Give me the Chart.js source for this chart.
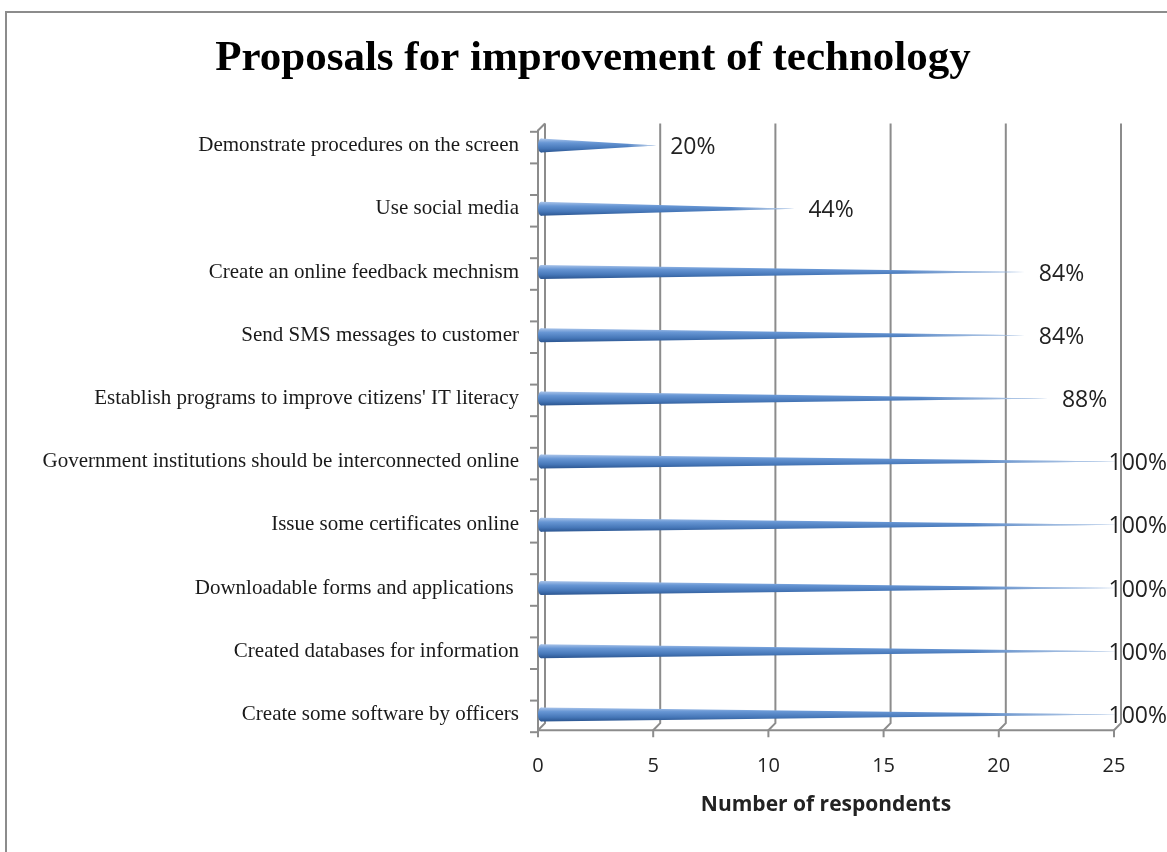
<!DOCTYPE html>
<html>
<head>
<meta charset="utf-8">
<title>Proposals for improvement of technology</title>
<script src="https://cdn.jsdelivr.net/npm/chart.js@4/dist/chart.umd.min.js"></script>
<style>
  html, body { margin: 0; padding: 0; background: #fff; overflow: hidden; }
  #frame {
    position: absolute; left: 5px; top: 11px; width: 1300px; height: 1000px;
    border-top: 2px solid #8c8c8c; border-left: 2px solid #8c8c8c;
  }
  #wrap { position: absolute; left: 0; top: 0; width: 1167px; height: 852px; }
</style>
</head>
<body>
<div id="frame"></div>
<div id="wrap"><canvas id="chart" width="1167" height="852"></canvas></div>
<script>
const chartTitle = "Proposals for improvement of technology";
const proposals = [
  "Demonstrate procedures on the screen",
  "Use social media",
  "Create an online feedback mechnism",
  "Send SMS messages to customer",
  "Establish programs to improve citizens' IT literacy",
  "Government institutions should be interconnected online",
  "Issue some certificates online",
  "Downloadable forms and applications ",
  "Created databases for information",
  "Create some software by officers",
];
const respondents = [5, 11, 21, 21, 22, 25, 25, 25, 25, 25];
const shareLabels = ["20%", "44%", "84%", "84%", "88%", "100%", "100%", "100%", "100%", "100%"];
const xTicks = [0, 5, 10, 15, 20, 25];

const lineGray = "#8c8c8c";

// title is centred on the whole frame, not on the chart area
const titlePlugin = {
  id: "frameTitle",
  afterDraw(chart) {
    const { ctx } = chart;
    ctx.save();
    ctx.font = "bold 43px 'Liberation Serif', 'Times New Roman', serif";
    ctx.fillStyle = "#000";
    ctx.textAlign = "center";
    ctx.textBaseline = "middle";
    ctx.fillText(chartTitle, 593, 59);
    ctx.restore();
  },
};

// back wall, floor and left edge in the old 3D office look
const wallPlugin = {
  id: "wall3d",
  beforeDatasetsDraw(chart) {
    const { ctx } = chart;
    const xs = chart.scales.x;
    const ys = chart.scales.y;
    const n = proposals.length;
    const band = ys.getPixelForValue(1) - ys.getPixelForValue(0);
    const top = ys.getPixelForValue(0) - band * 0.35;
    const floor = ys.getPixelForValue(n - 1) + band * 0.25;
    const depth = 7;
    const x0 = xs.getPixelForValue(0);
    ctx.save();
    ctx.strokeStyle = lineGray;
    ctx.lineWidth = 2;
    for (const v of xTicks) {
      const xf = xs.getPixelForValue(v);
      ctx.beginPath();
      ctx.moveTo(xf + depth, top);
      ctx.lineTo(xf + depth, floor - depth);
      ctx.lineTo(xf, floor);
      ctx.lineTo(xf, floor + 7);
      ctx.stroke();
    }
    ctx.beginPath();
    ctx.moveTo(x0, floor);
    ctx.lineTo(xs.getPixelForValue(25), floor);
    ctx.stroke();
    // left front edge
    ctx.beginPath();
    ctx.moveTo(x0 + depth, top);
    ctx.lineTo(x0, top + depth);
    ctx.lineTo(x0, floor);
    ctx.stroke();
    for (let i = 0; i < n; i++) {
      const y = ys.getPixelForValue(i);
      for (const ty of [y - band / 4 + 2, y + band / 4 + 2]) {
        ctx.beginPath();
        ctx.moveTo(x0 - 8, ty);
        ctx.lineTo(x0, ty);
        ctx.stroke();
      }
    }
    ctx.restore();
  },
};

// cone shaped bars drawn over the (transparent) bar elements
const conePlugin = {
  id: "cones",
  afterDatasetsDraw(chart) {
    const { ctx } = chart;
    const meta = chart.getDatasetMeta(0);
    ctx.save();
    meta.data.forEach((bar, i) => {
      const r = 7;
      const base = bar.base + 3;
      const tip = bar.x + 3;
      const y = bar.y;
      const g = ctx.createLinearGradient(0, y - r, 0, y + r);
      g.addColorStop(0, "#a9c4ea");
      g.addColorStop(0.3, "#6796d4");
      g.addColorStop(0.7, "#4677b8");
      g.addColorStop(1, "#2b5590");
      ctx.fillStyle = g;
      ctx.beginPath();
      ctx.moveTo(base, y - r);
      ctx.lineTo(tip, y);
      ctx.lineTo(base, y + r);
      ctx.closePath();
      ctx.fill();
      ctx.beginPath();
      ctx.ellipse(base, y, 3, r, 0, 0, Math.PI * 2);
      ctx.fill();
      // fade toward the tip
      const h = ctx.createLinearGradient(base, 0, tip, 0);
      h.addColorStop(0, "rgba(255,255,255,0)");
      h.addColorStop(0.75, "rgba(255,255,255,0)");
      h.addColorStop(1, "rgba(220,232,248,0.8)");
      ctx.fillStyle = h;
      ctx.beginPath();
      ctx.moveTo(base, y - r);
      ctx.lineTo(tip, y);
      ctx.lineTo(base, y + r);
      ctx.closePath();
      ctx.fill();

      const label = shareLabels[i];
      ctx.font = "23px 'Open Sans'";
      ctx.fillStyle = "#222";
      ctx.textBaseline = "middle";
      ctx.textAlign = "left";
      const w = ctx.measureText(label).width;
      const lx = Math.min(tip + 14, chart.width - w);
      ctx.fillText(label, lx, y + 2);
    });
    ctx.restore();
  },
};

new Chart(document.getElementById("chart"), {
  type: "bar",
  data: {
    labels: proposals,
    datasets: [{
      data: respondents,
      backgroundColor: "rgba(0,0,0,0)",
      borderWidth: 0,
      barThickness: 14,
    }],
  },
  options: {
    indexAxis: "y",
    responsive: false,
    animation: false,
    layout: { padding: { left: 0, right: 53, top: 114, bottom: 0 } },
    plugins: {
      legend: { display: false },
      tooltip: { enabled: false },
      title: { display: false },
    },
    scales: {
      x: {
        min: 0,
        max: 25,
        ticks: { stepSize: 5, padding: 0, color: "#222", font: { family: "'Open Sans'", size: 20 } },
        grid: { display: false },
        border: { display: false },
        title: {
          display: true,
          text: "Number of respondents",
          color: "#222",
          font: { family: "'Open Sans'", size: 21, weight: "bold" },
          padding: { top: 0, bottom: 34 },
        },
        afterFit: (s) => { s.height = 106; },
      },
      y: {
        ticks: { padding: 11, color: "#1a1a1a", font: { family: "'Liberation Serif', 'Times New Roman', serif", size: 21 } },
        grid: { display: false },
        border: { display: false },
        afterFit: (s) => { s.width = 538; },
      },
    },
  },
  plugins: [wallPlugin, conePlugin, titlePlugin],
});
</script>
</body>
</html>
